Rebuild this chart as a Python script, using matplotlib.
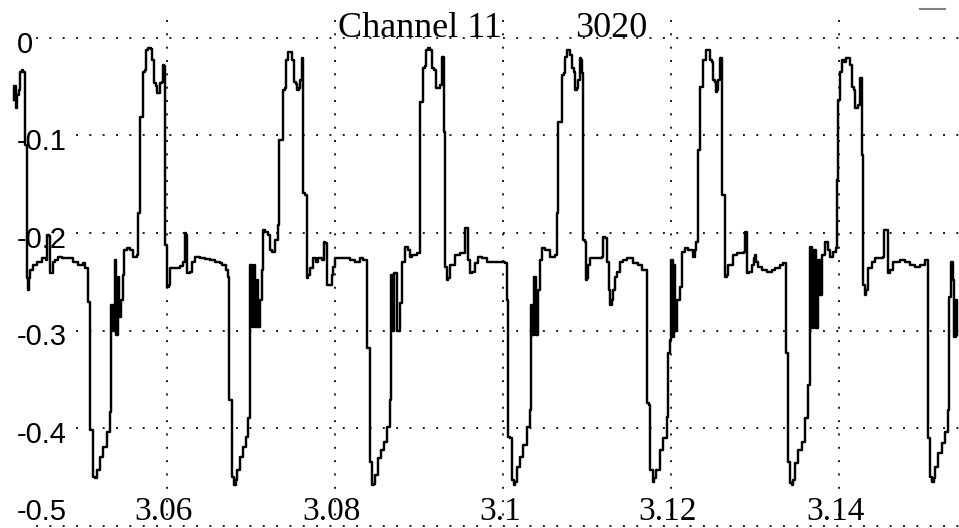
import matplotlib
matplotlib.use("Agg")
import matplotlib.pyplot as plt
from matplotlib.lines import Line2D

# Sampled trace of channel 11 (time in seconds, amplitude)
time_s = [
    3.04179, 3.04179, 3.04202, 3.04214, 3.04238, 3.04250, 3.04274, 3.04286, 3.04310, 3.04333,
    3.04333, 3.04345, 3.04357, 3.04369, 3.04405, 3.04452, 3.04512, 3.04560, 3.04571, 3.04595,
    3.04607, 3.04631, 3.04643, 3.04667, 3.04702, 3.04750, 3.04845, 3.04881, 3.04940, 3.05000,
    3.05024, 3.05060, 3.05060, 3.05083, 3.05083, 3.05119, 3.05119, 3.05143, 3.05167, 3.05202,
    3.05238, 3.05286, 3.05321, 3.05333, 3.05357, 3.05381, 3.05393, 3.05417, 3.05429, 3.05452,
    3.05476, 3.05488, 3.05524, 3.05560, 3.05595, 3.05643, 3.05655, 3.05679, 3.05714, 3.05738,
    3.05750, 3.05774, 3.05810, 3.05821, 3.05845, 3.05869, 3.05881, 3.05905, 3.05917, 3.05940,
    3.05952, 3.05964, 3.05976, 3.05976, 3.06000, 3.06000, 3.06024, 3.06036, 3.06095, 3.06155,
    3.06190, 3.06214, 3.06226, 3.06238, 3.06274, 3.06298, 3.06333, 3.06393, 3.06452, 3.06512,
    3.06571, 3.06631, 3.06655, 3.06702, 3.06726,
    3.06738, 3.06774, 3.06774, 3.06798, 3.06821, 3.06833, 3.06869, 3.06905, 3.06940, 3.06964,
    3.06988, 3.07012, 3.07036, 3.07048, 3.07071, 3.07083, 3.07107, 3.07131, 3.07143, 3.07167,
    3.07202, 3.07226, 3.07250, 3.07286, 3.07321, 3.07333, 3.07381, 3.07405, 3.07417, 3.07440,
    3.07464, 3.07488, 3.07512, 3.07536, 3.07548, 3.07571, 3.07583, 3.07607, 3.07619, 3.07643,
    3.07667, 3.07679, 3.07702, 3.07738, 3.07774, 3.07798, 3.07845, 3.07869, 3.07881, 3.07905,
    3.07940, 3.07964, 3.07976, 3.08000, 3.08060, 3.08179, 3.08238, 3.08298, 3.08333, 3.08369,
    3.08381, 3.08417, 3.08440, 3.08464, 3.08476, 3.08512, 3.08548, 3.08583, 3.08619, 3.08655,
    3.08667, 3.08690, 3.08702, 3.08738, 3.08774, 3.08798, 3.08833, 3.08869, 3.08893, 3.08917,
    3.08976, 3.09012, 3.09048, 3.09071, 3.09083, 3.09107, 3.09131, 3.09155, 3.09179, 3.09202,
    3.09226, 3.09250, 3.09274, 3.09298, 3.09310, 3.09333, 3.09345, 3.09369, 3.09429, 3.09488,
    3.09548, 3.09571, 3.09583, 3.09607, 3.09631, 3.09667, 3.09702, 3.09750, 3.09810, 3.09905,
    3.09964, 3.10024,
    3.10048, 3.10060, 3.10083, 3.10107, 3.10131, 3.10143, 3.10167, 3.10202, 3.10238, 3.10286,
    3.10321, 3.10333, 3.10345, 3.10369, 3.10393, 3.10417, 3.10440, 3.10464, 3.10500, 3.10560,
    3.10619, 3.10643, 3.10655, 3.10702, 3.10726, 3.10738, 3.10762, 3.10786, 3.10798, 3.10821,
    3.10845, 3.10857, 3.10881, 3.10893, 3.10917, 3.10929, 3.10940, 3.10952, 3.10976, 3.10988,
    3.11000, 3.11012, 3.11036, 3.11095, 3.11179, 3.11190, 3.11214, 3.11238, 3.11262, 3.11274,
    3.11298, 3.11310, 3.11333, 3.11357, 3.11393, 3.11429, 3.11476, 3.11548, 3.11607, 3.11655,
    3.11702,
    3.11714, 3.11738, 3.11750, 3.11786, 3.11798, 3.11821, 3.11869, 3.11905, 3.11952, 3.11964,
    3.11988, 3.12000, 3.12024, 3.12036, 3.12048, 3.12071, 3.12107, 3.12131, 3.12167, 3.12202,
    3.12262, 3.12286, 3.12298, 3.12321, 3.12345, 3.12381, 3.12417, 3.12440, 3.12464, 3.12488,
    3.12500, 3.12524, 3.12536, 3.12548, 3.12560, 3.12583, 3.12607, 3.12631, 3.12643, 3.12667,
    3.12679, 3.12738, 3.12786, 3.12869, 3.12881, 3.12893, 3.12905, 3.12929, 3.12964, 3.12988,
    3.13000, 3.13012, 3.13036, 3.13083, 3.13143, 3.13202, 3.13238, 3.13298, 3.13333,
    3.13369, 3.13393, 3.13417, 3.13440, 3.13452, 3.13476, 3.13512, 3.13560, 3.13595, 3.13631,
    3.13655, 3.13679, 3.13702, 3.13726, 3.13750, 3.13774, 3.13798, 3.13833, 3.13869, 3.13893,
    3.13929, 3.13964, 3.13976, 3.13988, 3.14012, 3.14036, 3.14060, 3.14083, 3.14107, 3.14131,
    3.14155, 3.14179, 3.14190, 3.14214, 3.14226, 3.14250, 3.14262, 3.14274, 3.14286, 3.14310,
    3.14321, 3.14345, 3.14393, 3.14429, 3.14524, 3.14536, 3.14560, 3.14583, 3.14607, 3.14643,
    3.14726, 3.14786, 3.14845, 3.14905, 3.14964, 3.15024, 3.15048,
    3.15060, 3.15083, 3.15107, 3.15131, 3.15143, 3.15179, 3.15226, 3.15262, 3.15298, 3.15310,
    3.15333, 3.15357, 3.15369, 3.15393, 3.15405,
]

signal = [
    -0.064, -0.049, -0.072, -0.058, -0.053, -0.035, -0.033, -0.035, -0.110, -0.115,
    -0.246, -0.258, -0.246, -0.238, -0.233, -0.230, -0.226, -0.228, -0.202, -0.203,
    -0.241, -0.241, -0.230, -0.228, -0.225, -0.226, -0.226, -0.230, -0.233, -0.231,
    -0.236, -0.236, -0.271, -0.274, -0.402, -0.412, -0.450, -0.451, -0.443, -0.430,
    -0.419, -0.404, -0.384, -0.274, -0.300, -0.228, -0.305, -0.245, -0.286, -0.269,
    -0.243, -0.217, -0.215, -0.217, -0.225, -0.223, -0.179, -0.081, -0.035, -0.033,
    -0.012, -0.010, -0.011, -0.023, -0.046, -0.049, -0.056, -0.056, -0.046, -0.045,
    -0.028, -0.029, -0.048, -0.212, -0.215, -0.255, -0.253, -0.236, -0.236, -0.234,
    -0.230, -0.200, -0.202, -0.241, -0.240, -0.230, -0.225, -0.226, -0.227, -0.228,
    -0.230, -0.231, -0.233, -0.238, -0.245,
    -0.371, -0.373, -0.450, -0.458, -0.453, -0.443, -0.430, -0.419, -0.409, -0.390,
    -0.233, -0.296, -0.233, -0.296, -0.248, -0.296, -0.269, -0.238, -0.197, -0.199,
    -0.202, -0.217, -0.219, -0.207, -0.192, -0.105, -0.053, -0.051, -0.023, -0.014,
    -0.014, -0.023, -0.045, -0.047, -0.053, -0.051, -0.043, -0.021, -0.159, -0.161,
    -0.246, -0.243, -0.236, -0.226, -0.230, -0.226, -0.228, -0.209, -0.210, -0.253,
    -0.253, -0.243, -0.235, -0.226, -0.226, -0.228, -0.230, -0.226, -0.228, -0.228,
    -0.318, -0.435, -0.458, -0.457, -0.448, -0.431, -0.423, -0.414, -0.399, -0.371,
    -0.243, -0.300, -0.241, -0.300, -0.272, -0.230, -0.214, -0.217, -0.225, -0.223,
    -0.221, -0.066, -0.031, -0.029, -0.012, -0.010, -0.012, -0.031, -0.033, -0.051,
    -0.051, -0.048, -0.019, -0.096, -0.235, -0.248, -0.246, -0.233, -0.223, -0.221,
    -0.195, -0.195, -0.228, -0.241, -0.240, -0.231, -0.225, -0.226, -0.230, -0.230,
    -0.230, -0.231,
    -0.269, -0.409, -0.410, -0.453, -0.458, -0.455, -0.440, -0.430, -0.417, -0.399,
    -0.382, -0.274, -0.305, -0.245, -0.305, -0.258, -0.228, -0.215, -0.217, -0.225,
    -0.223, -0.179, -0.086, -0.038, -0.036, -0.019, -0.012, -0.012, -0.017, -0.031,
    -0.035, -0.053, -0.051, -0.043, -0.021, -0.023, -0.036, -0.207, -0.209, -0.248,
    -0.246, -0.233, -0.226, -0.226, -0.225, -0.204, -0.205, -0.230, -0.258, -0.274,
    -0.269, -0.258, -0.245, -0.240, -0.230, -0.228, -0.226, -0.231, -0.233, -0.238,
    -0.238,
    -0.374, -0.376, -0.443, -0.455, -0.451, -0.443, -0.423, -0.410, -0.389, -0.323,
    -0.310, -0.228, -0.307, -0.233, -0.300, -0.269, -0.255, -0.219, -0.215, -0.217,
    -0.225, -0.217, -0.209, -0.115, -0.050, -0.023, -0.012, -0.012, -0.023, -0.025,
    -0.043, -0.045, -0.055, -0.053, -0.043, -0.021, -0.161, -0.161, -0.245, -0.243,
    -0.233, -0.223, -0.221, -0.219, -0.199, -0.199, -0.241, -0.240, -0.233, -0.226,
    -0.223, -0.230, -0.235, -0.238, -0.240, -0.238, -0.236, -0.233, -0.231,
    -0.323, -0.435, -0.456, -0.458, -0.453, -0.436, -0.423, -0.414, -0.390, -0.356,
    -0.214, -0.297, -0.217, -0.297, -0.228, -0.264, -0.223, -0.209, -0.217, -0.225,
    -0.219, -0.215, -0.146, -0.064, -0.035, -0.023, -0.025, -0.021, -0.021, -0.028,
    -0.050, -0.053, -0.072, -0.072, -0.069, -0.041, -0.041, -0.120, -0.253, -0.264,
    -0.258, -0.236, -0.230, -0.226, -0.225, -0.197, -0.197, -0.241, -0.238, -0.230,
    -0.228, -0.230, -0.233, -0.235, -0.233, -0.228, -0.228,
    -0.410, -0.450, -0.455, -0.451, -0.440, -0.426, -0.415, -0.404, -0.382, -0.266,
    -0.230, -0.248, -0.307, -0.269, -0.305,
]

x_ticks = [3.06, 3.08, 3.10, 3.12, 3.14]
x_tick_labels = ["3.06", "3.08", "3.1", "3.12", "3.14"]
y_ticks = [0.0, -0.1, -0.2, -0.3, -0.4, -0.5]
y_tick_labels = ["0", "-0.1", "-0.2", "-0.3", "-0.4", "-0.5"]
channel_name = "Channel 11"
record_number = "3020"

x_min, x_max = 3.04012, 3.15429
y_min, y_max = -0.50256, 0.03897
grid_top = 0.0185
grid_left = 3.0444

fig = plt.figure(figsize=(9.59, 5.28), dpi=100)
fig.patch.set_facecolor("white")
ax = fig.add_axes([0, 0, 1, 1])
ax.set_xlim(x_min, x_max)
ax.set_ylim(y_min, y_max)
ax.axis("off")

# dotted grid
dot_style = (0, (1, 5.86))
for xt in x_ticks:
    ax.plot([xt, xt], [grid_top, y_ticks[-1]], linestyle=dot_style, lw=1.4,
            color="0.1", dash_capstyle="butt", zorder=1)
for yt in y_ticks:
    ax.plot([grid_left, x_max], [yt, yt], linestyle=dot_style, lw=1.4,
            color="0.1", dash_capstyle="butt", zorder=1)

# the trace
ax.plot(time_s, signal, drawstyle="steps-post", color="black", lw=1.75, zorder=4)

# y tick labels drawn inside the plot
label_x = 3.04214
for yt, lab in zip(y_ticks, y_tick_labels):
    if yt == y_ticks[-1]:
        ax.text(label_x, -0.486, lab, ha="left", va="center", fontsize=21,
                family=["Liberation Sans Narrow", "Liberation Sans"], zorder=3)
    else:
        ax.text(label_x, yt - 0.007, lab, ha="left", va="center", fontsize=21,
                family=["Liberation Sans Narrow", "Liberation Sans"], zorder=3,
                bbox=dict(facecolor="white", edgecolor="none", pad=1.5))

# x tick labels
for xt, lab in zip(x_ticks, x_tick_labels):
    ax.text(xt - 0.00036, -0.486, lab, ha="center", va="center", fontsize=24,
            family="Liberation Serif", zorder=3)

# header
fig.text(338 / 959, 1 - 37 / 528, channel_name, ha="left", va="baseline",
         fontsize=26, family="Liberation Serif")
fig.text(575 / 959, 1 - 37 / 528, record_number, ha="left", va="baseline",
         fontsize=26, family="Liberation Serif")
fig.add_artist(Line2D([920 / 959, 945 / 959], [1 - 9 / 528, 1 - 9 / 528],
                      transform=fig.transFigure, color="0.5", lw=1.5))

fig.savefig("out.png", dpi=100, facecolor="white")
